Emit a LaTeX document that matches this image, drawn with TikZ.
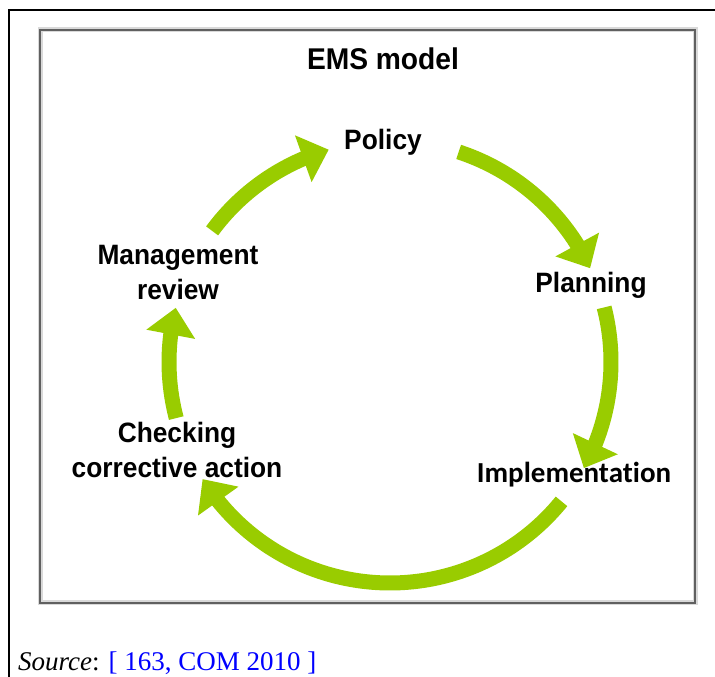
\documentclass[tikz,border=0pt]{standalone}
\usepackage{fontspec}
\setmainfont{Liberation Sans}
\newfontfamily\lblfont[FakeStretch=0.94]{Liberation Sans}
\newfontfamily\srcserif{Liberation Serif}
\newfontfamily\calib[Ligatures={NoCommon,NoDiscretionary}]{Carlito}
\usetikzlibrary{arrows.meta,bending}
\definecolor{emsgreen}{RGB}{153,204,0}
\definecolor{srcblue}{RGB}{0,0,255}
\begin{document}
\begin{tikzpicture}[x=1pt,y=1pt,
  lbl/.style={font=\lblfont\bfseries\fontsize{28}{35}\selectfont, align=center, inner sep=0pt},
  cyc/.style={draw=emsgreen, line width=15pt, -{Triangle[length=27pt,width=48pt]}},
  ]
\useasboundingbox (0,0) rectangle (715,677);
% outer frame
\draw[line width=2.5pt] (9,0) -- (9,667) -- (715,667);
% inner frame
\draw[gray!30, line width=5pt] (40,74) rectangle (695,647);
\draw[gray!75!black, line width=2pt] (40,74) rectangle (695,647);
% labels
\node[lbl, anchor=base, font=\lblfont\bfseries\fontsize{30}{35}\selectfont] (ems) at (383,607) {EMS model};
\node[lbl, anchor=base] (policy) at (383,527) {Policy};
\node[lbl, anchor=base] (planning) at (591,384) {Planning};
\node[lbl, anchor=base] (mgmt) at (178,377) {Management\\review};
\node[lbl, anchor=base] (check) at (177,199) {Checking\\corrective action};
\node[lbl, anchor=base, font=\calib\bfseries\fontsize{29}{35}\selectfont] (impl) at (574,194) {Implementation};
\node[anchor=base west, inner sep=0pt, font=\srcserif\fontsize{27}{30}\selectfont] (src) at (18,6) {\textit{Source}: \textcolor{srcblue}{[ 163, COM 2010 ]}};
% cycle arrows
\coordinate (O) at (390,315);
\coordinate (a1) at ([shift={(71.9:221)}]O);
\coordinate (a2) at ([shift={(14.3:221)}]O);
\coordinate (a3) at ([shift={(-39.1:221)}]O);
\coordinate (a4) at ([shift={(-165.3:221)}]O);
\coordinate (a5) at ([shift={(143.6:221)}]O);
\draw[cyc] (a1) arc[start angle=71.9, end angle=25.1, radius=221];
\draw[cyc] (a2) arc[start angle=14.3, end angle=-28.7, radius=221];
\draw[cyc] (a3) arc[start angle=-39.1, end angle=-148, radius=221];
\draw[cyc] (a4) arc[start angle=-165.3, end angle=-194.2, radius=221];
\draw[cyc] (a5) arc[start angle=143.6, end angle=106.1, radius=221];
\end{tikzpicture}
\end{document}
